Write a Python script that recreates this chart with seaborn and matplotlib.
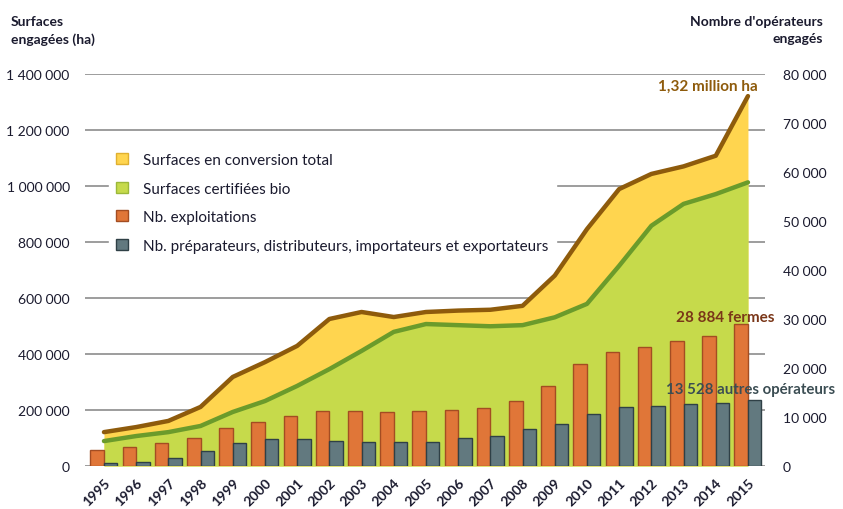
import numpy as np
import pandas as pd
import seaborn as sns
from matplotlib import pyplot as plt
from matplotlib.patches import Patch
from matplotlib.ticker import FuncFormatter

years = [str(y) for y in range(1995, 2016)]
surf_total = [121000, 139000, 161000, 211000, 318000, 371000, 429000, 525000, 550000, 532000, 550000,
              555000, 558000, 572000, 680000, 846000, 989000, 1043000, 1070000, 1108000, 1321000]
surf_bio = [89000, 107000, 121000, 143000, 193000, 232000, 286000, 346000, 411000, 479000, 507000,
            503000, 499000, 503000, 531000, 579000, 715000, 858000, 936000, 971000, 1013000]
nb_exploit = [3330, 3940, 4630, 5710, 7760, 8910, 10200, 11220, 11220, 11020, 11220,
              11500, 11770, 13270, 16390, 20800, 23270, 24350, 25440, 26600, 28884]
nb_autres = [600, 880, 1700, 3060, 4630, 5440, 5440, 5170, 4900, 4900, 4900,
             5650, 6190, 7550, 8640, 10540, 12100, 12310, 12590, 12860, 13528]

lab_total = 'Surfaces en conversion total'
lab_bio = 'Surfaces certifiées bio'
lab_exploit = 'Nb. exploitations'
lab_autres = 'Nb. préparateurs, distributeurs, importateurs et exportateurs'

c_yellow, c_brown = '#ffd54f', '#8e5b0c'
c_green, c_dgreen = '#c6da4b', '#6b9b2b'
c_orange, c_grey = '#e07638', '#62797f'
c_text = '#1a1a2e'

sns.set_style('white')
plt.rcParams['font.family'] = ['Lato', 'DejaVu Sans']

fig = plt.figure(figsize=(8.43, 5.10), dpi=100)
ax = fig.add_axes([0.1008, 0.0843, 0.8067, 0.7687])
ax2 = ax.twinx()

# surfaces (axe gauche)
x = np.arange(len(years))
ax.fill_between(x, surf_total, color=c_yellow, zorder=2, lw=0)
ax.plot(x, surf_total, color=c_brown, lw=3.2, zorder=3, solid_joinstyle='round', solid_capstyle='round')
ax.fill_between(x, surf_bio, color=c_green, zorder=4, lw=0)
ax.plot(x, surf_bio, color=c_dgreen, lw=3.2, zorder=5, solid_joinstyle='round', solid_capstyle='round')

ax.set_ylim(0, 1400000)
ax.set_yticks(range(0, 1400001, 200000))
ax.yaxis.set_major_formatter(FuncFormatter(lambda v, p: f'{int(v):,}'.replace(',', ' ')))
ax.grid(axis='y', color='#8c8c8c', lw=1.2, zorder=0)
ax.grid(axis='x', visible=False)
ax.set_axisbelow(True)

# operateurs (axe droit)
df = pd.DataFrame({'year': years * 2,
                   'n': nb_exploit + nb_autres,
                   'type': [lab_exploit] * 21 + [lab_autres] * 21})
sns.barplot(data=df, x='year', y='n', hue='type', palette=[c_orange, c_grey],
            width=0.84, ax=ax2, legend=False, saturation=1)
for i, bar in enumerate(ax2.patches):
    bar.set_edgecolor('#a34d22' if i < 21 else '#2f4046')
    bar.set_linewidth(1.0)

ax2.set_ylim(0, 80000)
ax2.set_yticks(range(0, 80001, 10000))
ax2.yaxis.set_major_formatter(FuncFormatter(lambda v, p: f'{int(v):,}'.replace(',', ' ')))
ax2.set_xlim(-0.59, 20.53)
ax2.set_xlabel('')
ax2.set_ylabel('')
ax2.grid(False)

for a in (ax, ax2):
    for s in a.spines.values():
        s.set_visible(False)
ax.tick_params(axis='y', length=0, pad=11, labelsize=10, labelcolor=c_text)
ax2.tick_params(axis='y', length=0, pad=13, labelsize=10, labelcolor=c_text)

ax.set_xticks(x)
ax.set_xticklabels(years, rotation=45, ha='right', va='top', rotation_mode='anchor',
                   fontweight='bold', fontsize=10, color=c_text)
ax.tick_params(axis='x', length=0, pad=7)

# titres des axes
fig.text(0.013, 0.968, 'Surfaces\nengagées (ha)', ha='left', va='top', fontsize=10,
         fontweight='bold', color=c_text, linespacing=1.5)
fig.text(0.976, 0.968, "Nombre d'opérateurs\nengagés", ha='right', va='top', fontsize=10,
         fontweight='bold', color=c_text, linespacing=1.5)

# annotations
ax.text(20.3, 1332000, '1,32 million ha', ha='right', va='bottom', fontsize=11,
        fontweight='bold', color='#8e5b0c', zorder=10)
ax2.text(17.75, 29000, '28 884 fermes', ha='left', va='bottom', fontsize=11,
         fontweight='bold', color='#7a3618', zorder=10)
ax2.text(17.45, 14300, '13 528 autres opérateurs', ha='left', va='bottom', fontsize=10.8,
         fontweight='bold', color='#3b4d53', zorder=10)

handles = [Patch(facecolor=c_yellow, edgecolor='#e0b030', label=lab_total),
           Patch(facecolor=c_green, edgecolor='#9bb83a', label=lab_bio),
           Patch(facecolor=c_orange, edgecolor='#a34d22', label=lab_exploit),
           Patch(facecolor=c_grey, edgecolor='#2f4046', label=lab_autres)]
leg = ax2.legend(handles=handles, loc='upper left', bbox_to_anchor=(0.12, 0.728),
                 bbox_transform=fig.transFigure, frameon=True, framealpha=1,
                 edgecolor='white', fontsize=11, handlelength=0.75, handleheight=0.75,
                 labelspacing=0.95, handletextpad=1.0, borderpad=0.5)
leg.set_zorder(20)
for t in leg.get_texts():
    t.set_color(c_text)

fig.savefig('out.png', dpi=100)
